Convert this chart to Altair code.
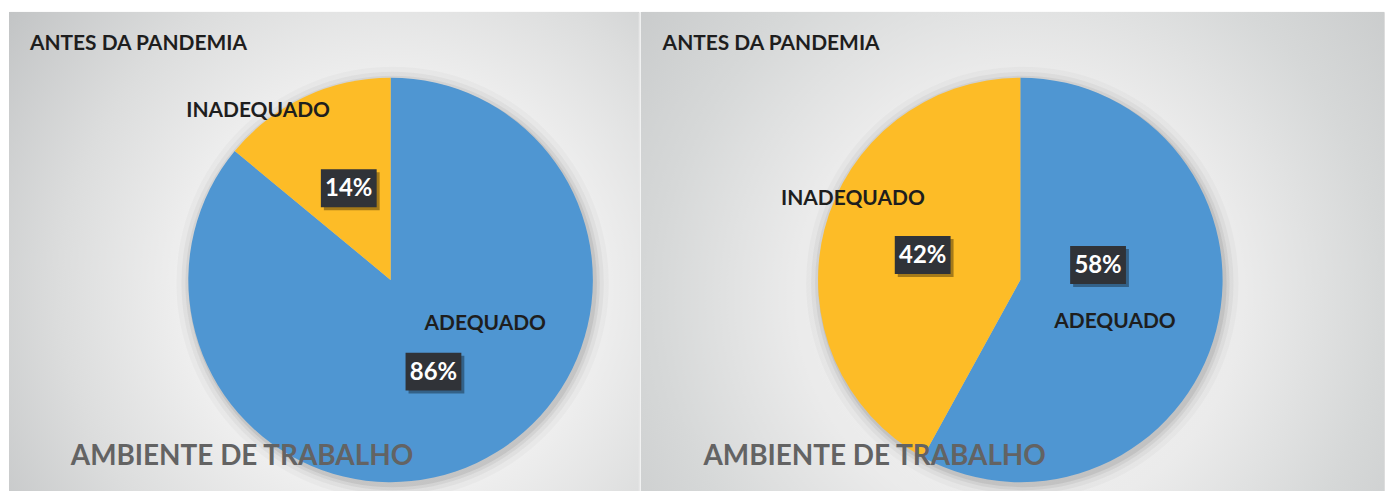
import altair as alt
import pandas as pd

# ---- data ----
categories = ["ADEQUADO", "INADEQUADO"]
left_values = [86, 14]
right_values = [58, 42]
colors = ["#4f96d2", "#fdbc27"]
panel_title = "ANTES DA PANDEMIA"
footer_text = "AMBIENTE DE TRABALHO"

FONT = "Lato"
PANEL_H = 481
R = 203


def one_row():
    return pd.DataFrame({"k": [0]})


def panel(values, width, cx, cy, grad, name_pos, box_pos, x0=0):
    df = pd.DataFrame({
        "category": categories,
        "value": values,
        "order": list(range(len(categories))),
        "pct": [f"{v}%" for v in values],
    })
    layers = []
    # background
    layers.append(
        alt.Chart(one_row()).mark_rect(fill=grad).encode(
            x=alt.value(x0), x2=alt.value(width), y=alt.value(0), y2=alt.value(PANEL_H)
        )
    )
    # soft shadow around pie
    for extra, op in [(14, 0.025), (9, 0.035), (5, 0.05), (2, 0.07)]:
        layers.append(
            alt.Chart(one_row()).mark_arc(
                radius=R + extra, theta=0, theta2=6.2832, fill="#000000", opacity=op
            ).encode(x=alt.value(cx + 2), y=alt.value(cy + 3))
        )
    # pie
    layers.append(
        alt.Chart(df).mark_arc(radius=R).encode(
            theta=alt.Theta("value:Q", stack=True),
            color=alt.Color("category:N", scale=alt.Scale(domain=categories, range=colors), legend=None),
            order=alt.Order("order:Q"),
            x=alt.value(cx),
            y=alt.value(cy),
        )
    )
    # title
    layers.append(
        alt.Chart(one_row()).mark_text(
            text=panel_title, font=FONT, fontWeight="bold", fontSize=21, color="#1e1e1e",
            align="left", baseline="alphabetic"
        ).encode(x=alt.value(21), y=alt.value(38))
    )
    # category names
    for cat, (tx, ty) in zip(categories, name_pos):
        layers.append(
            alt.Chart(df).transform_filter(alt.datum.category == cat).mark_text(
                font=FONT, fontWeight="bold", fontSize=21, color="#1e1e1e",
                align="center", baseline="alphabetic"
            ).encode(text="category:N", x=alt.value(tx), y=alt.value(ty))
        )
    # percentage boxes
    for cat, (bx, by) in zip(categories, box_pos):
        layers.append(
            alt.Chart(one_row()).mark_rect(fill="#000000", opacity=0.35).encode(
                x=alt.value(bx - 28 + 3), x2=alt.value(bx + 28 + 3),
                y=alt.value(by - 19 + 3), y2=alt.value(by + 19 + 3)
            )
        )
        layers.append(
            alt.Chart(one_row()).mark_rect(fill="#303338").encode(
                x=alt.value(bx - 28), x2=alt.value(bx + 28),
                y=alt.value(by - 19), y2=alt.value(by + 19)
            )
        )
        layers.append(
            alt.Chart(df).transform_filter(alt.datum.category == cat).mark_text(
                font=FONT, fontWeight="bold", fontSize=24, color="#ffffff",
                align="center", baseline="middle"
            ).encode(text="pct:N", x=alt.value(bx), y=alt.value(by + 1))
        )
    # footer
    layers.append(
        alt.Chart(one_row()).mark_text(
            text=footer_text, font=FONT, fontWeight="bold", fontSize=28, color="#636363",
            align="left", baseline="alphabetic"
        ).encode(x=alt.value(62), y=alt.value(455))
    )
    return alt.layer(*layers).properties(width=width, height=PANEL_H)


def radial(fx, fy, stops):
    return alt.Gradient(
        gradient="radial",
        x1=fx, y1=fy, r1=0, x2=fx, y2=fy, r2=0.75,
        stops=[alt.GradientStop(color=c, offset=o) for o, c in stops],
    )


left_grad = radial(383 / 632, 269 / PANEL_H,
                   [(0, "#f5f5f5"), (0.45, "#eeeeee"), (0.7, "#dcdddd"), (1, "#c2c4c5")])
right_grad = radial(380 / 745, 269 / PANEL_H,
                    [(0, "#f3f3f3"), (0.4, "#ebebeb"), (0.65, "#d6d8d8"), (1, "#c0c2c3")])

left = panel(left_values, 632, 383, 269, left_grad,
             name_pos=[(478, 319), (250, 106)],
             box_pos=[(426, 361), (341, 177)])
right = panel(right_values, 745, 380, 269, right_grad,
              name_pos=[(475, 317), (212, 194)],
              box_pos=[(458, 254), (282, 244)], x0=-1)

chart = alt.hconcat(left, right, spacing=0).properties(
    padding={"left": 0, "top": 2, "right": 0, "bottom": 0}
).configure_view(stroke=None).configure(background="#ffffff")

chart.save("out.html", embed_options={"renderer": "svg", "actions": False})
